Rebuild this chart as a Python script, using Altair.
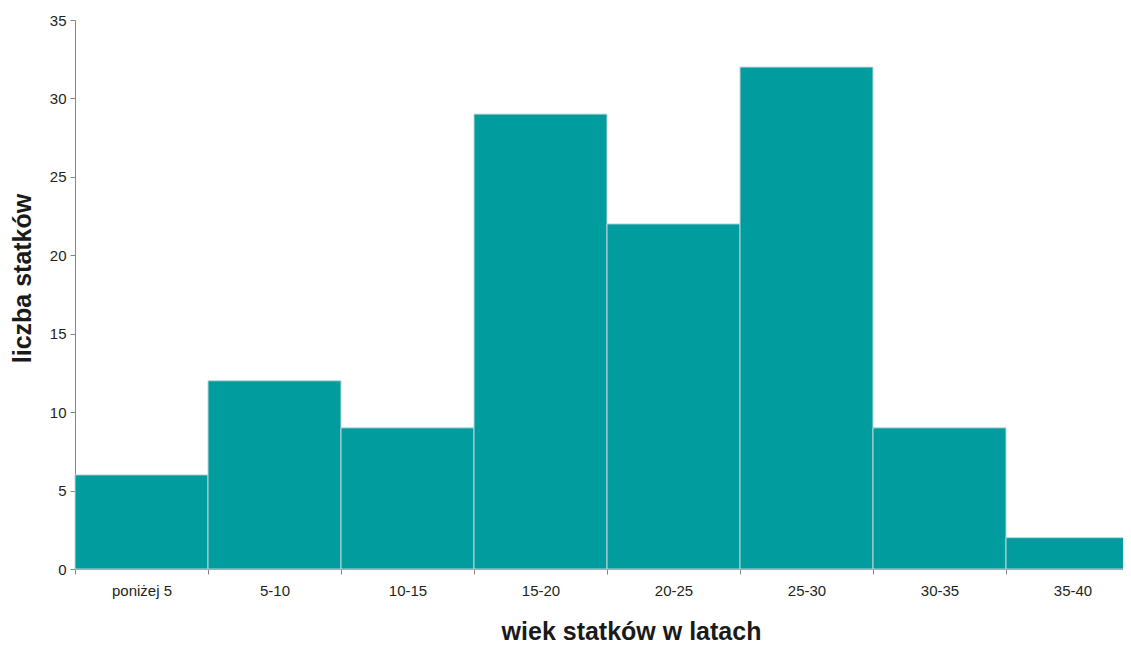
import altair as alt
import pandas as pd

categories = ["poniżej 5", "5-10", "10-15", "15-20", "20-25", "25-30", "30-35", "35-40"]
counts = [6, 12, 9, 29, 22, 32, 9, 2]
y_ticks = [0, 5, 10, 15, 20, 25, 30, 35]

df = pd.DataFrame({"wiek": categories, "liczba": counts})

FONT = "Liberation Sans"
AXIS_COLOR = "#7d8791"

chart = (
    alt.Chart(df)
    .mark_bar(color="#009c9e", stroke="#c3d5da", strokeWidth=1)
    .encode(
        x=alt.X(
            "wiek:N",
            sort=categories,
            scale=alt.Scale(paddingInner=0, paddingOuter=0, range=[0, 1064]),
            axis=alt.Axis(
                title="wiek statków w latach",
                labelAngle=0,
                tickBand="extent",
                tickSize=5,
                labelPadding=9,
                labelFontSize=15,
                labelFont=FONT,
                labelColor="#231f20",
                domainColor=AXIS_COLOR,
                tickColor=AXIS_COLOR,
                titleFont=FONT,
                titleFontSize=25,
                titleFontWeight="bold",
                titleColor="#1a1a1a",
                titleX=556,
                titleY=70,
                titleBaseline="alphabetic",
            ),
        ),
        y=alt.Y(
            "liczba:Q",
            scale=alt.Scale(domain=[0, 35], nice=False),
            axis=alt.Axis(
                values=y_ticks,
                grid=False,
                title="liczba statków",
                tickSize=5,
                labelPadding=4,
                labelFontSize=15,
                labelFont=FONT,
                labelColor="#231f20",
                domainColor=AXIS_COLOR,
                tickColor=AXIS_COLOR,
                titleFont=FONT,
                titleFontSize=25,
                titleFontWeight="bold",
                titleColor="#1a1a1a",
                titleX=-45,
                titleY=258,
                titleBaseline="alphabetic",
            ),
        ),
    )
    .properties(
        width=1048,
        height=549,
        autosize=alt.AutoSizeParams(type="none"),
        padding={"left": 67, "top": 12, "right": 0, "bottom": 75},
    )
    .configure_view(stroke=None)
)

chart.save("out.html", embed_options={"renderer": "svg", "actions": False})
